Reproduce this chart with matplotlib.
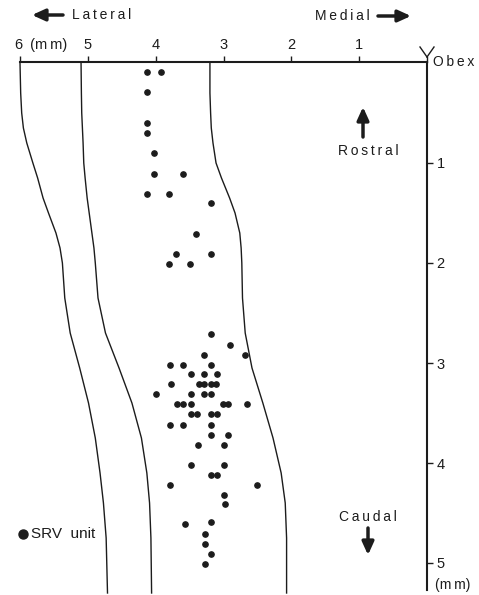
import matplotlib
matplotlib.use("Agg")
import matplotlib.pyplot as plt
from matplotlib.lines import Line2D

plt.rcParams['font.family'] = ['Liberation Sans', 'DejaVu Sans']

# ---------------- data (mm) ----------------
depth = [0, 0.3, 0.5, 0.65, 0.8, 1.0, 1.15, 1.35, 1.5, 1.7, 1.85, 2.0,
         2.35, 2.7, 3.05, 3.4, 3.75, 4.1, 4.4, 4.75, 5.3]
boundary_1 = [6.0, 5.99, 5.975, 5.95, 5.90, 5.81, 5.74, 5.66, 5.58, 5.47, 5.41,
              5.375, 5.34, 5.26, 5.12, 4.99, 4.89, 4.82, 4.77, 4.73, 4.71]
boundary_2 = [5.10, 5.095, 5.09, 5.08, 5.07, 5.06, 5.04, 5.01, 4.98, 4.94, 4.91,
              4.89, 4.85, 4.74, 4.54, 4.35, 4.21, 4.13, 4.09, 4.07, 4.06]
boundary_3 = [3.20, 3.20, 3.19, 3.18, 3.155, 3.11, 3.03, 2.91, 2.83, 2.76, 2.74,
              2.73, 2.72, 2.68, 2.58, 2.42, 2.27, 2.15, 2.09, 2.07, 2.07]

unit_lateral = [4.13, 3.92, 4.13, 4.13, 4.13, 4.02, 4.02, 3.60, 4.13, 3.80, 3.19,
                3.40, 3.70, 3.19, 3.80, 3.49,
                3.19,
                2.90,
                3.29, 2.69,
                3.79, 3.59, 3.19,
                3.48, 3.29, 3.09,
                3.78, 3.36, 3.29, 3.19, 3.11,
                4.00, 3.48, 3.29, 3.19,
                3.69, 3.59, 3.48, 3.01, 2.93, 2.66,
                3.48, 3.39, 3.19, 3.09,
                3.79, 3.59, 3.19,
                3.19, 2.93,
                3.38, 2.99,
                3.48, 2.99,
                3.19, 3.09,
                3.79, 2.51,
                2.99,
                2.98,
                3.57, 3.18,
                3.28,
                3.28,
                3.18,
                3.28]
unit_depth = [0.09, 0.09, 0.29, 0.60, 0.70, 0.90, 1.11, 1.11, 1.31, 1.31, 1.40,
              1.71, 1.91, 1.91, 2.01, 2.01,
              2.71,
              2.82,
              2.92, 2.92,
              3.02, 3.02, 3.02,
              3.11, 3.11, 3.11,
              3.21, 3.21, 3.21, 3.21, 3.21,
              3.31, 3.31, 3.31, 3.31,
              3.41, 3.41, 3.41, 3.41, 3.41, 3.41,
              3.51, 3.51, 3.51, 3.51,
              3.62, 3.62, 3.62,
              3.72, 3.72,
              3.82, 3.82,
              4.02, 4.02,
              4.12, 4.12,
              4.22, 4.22,
              4.32,
              4.41,
              4.61, 4.59,
              4.71,
              4.81,
              4.91,
              5.01]

top_ticks = [1, 2, 3, 4, 5, 6]
top_labels = ['1', '2', '3', '4', '5', '']
right_ticks = [1, 2, 3, 4, 5]
right_labels = ['1', '2', '3', '4', '5']

# ---------------- figure ----------------
W, H = 479, 595
INK = '#1c1c1c'
TS = '\u2009'
fig = plt.figure(figsize=(W / 100, H / 100), dpi=100)
fig.patch.set_facecolor('white')


def fx(px):
    return px / W


def fy(py):
    return 1 - py / H


def spaced(word):
    return TS.join(word)


ax = fig.add_axes([fx(20), fy(590), fx(427) - fx(20), fy(62) - fy(590)])
ax.set_xlim(6, 0)
ax.set_ylim(5.27, -0.01)

for b in (boundary_1, boundary_2, boundary_3):
    ax.plot(b, depth, color=INK, lw=1.0, clip_on=False, solid_joinstyle='round')

ax.plot(unit_lateral, unit_depth, 'o', color=INK, ms=3.8, mec=INK, clip_on=False)

for s in ('left', 'bottom'):
    ax.spines[s].set_visible(False)
for s in ('top', 'right'):
    ax.spines[s].set_linewidth(1.5)
    ax.spines[s].set_color(INK)

ax.xaxis.set_ticks_position('top')
ax.set_xticks(top_ticks)
ax.set_xticklabels(top_labels)
ax.tick_params(axis='x', direction='out', length=4, width=1.0, color=INK,
               pad=3, labelsize=10.5, labelcolor=INK)
ax.yaxis.set_ticks_position('right')
ax.set_yticks(right_ticks)
ax.set_yticklabels(right_labels)
ax.tick_params(axis='y', direction='out', length=4, width=1.0, color=INK,
               pad=3, labelsize=10.5, labelcolor=INK)

# axis annotations
fig.text(fx(15), fy(45), '6' + TS + ' (' + spaced('mm') + ')', ha='left', va='center',
         fontsize=10.5, color=INK)
fig.text(fx(433), fy(62), spaced('Obex'), ha='left', va='center', fontsize=10, color=INK)
fig.text(fx(435), fy(585), '(' + spaced('mm') + ')', ha='left', va='center',
         fontsize=10, color=INK)

# Y mark at the obex
for (x0, y0, x1, y1) in [(427, 62, 427, 57), (427, 57, 420, 47), (427, 57, 434, 47)]:
    fig.add_artist(Line2D([fx(x0), fx(x1)], [fy(y0), fy(y1)], transform=fig.transFigure,
                          color=INK, lw=1.0))

# direction labels
arrow_kw = dict(arrowstyle='-|>,head_length=0.55,head_width=0.25', color=INK, lw=2.5,
                shrinkA=0, shrinkB=0, mutation_scale=14)
fig.text(fx(72), fy(15), spaced('Lateral'), ha='left', va='center', fontsize=10, color=INK)
ax.annotate('', xy=(fx(32), fy(15)), xytext=(fx(63), fy(15)),
            xycoords='figure fraction', textcoords='figure fraction', arrowprops=arrow_kw)
fig.text(fx(370), fy(16), spaced('Medial'), ha='right', va='center', fontsize=10, color=INK)
ax.annotate('', xy=(fx(411), fy(16)), xytext=(fx(378), fy(16)),
            xycoords='figure fraction', textcoords='figure fraction', arrowprops=arrow_kw)

fig.text(fx(368), fy(151), spaced('Rostral'), ha='center', va='center', fontsize=10,
         color=INK)
ax.annotate('', xy=(fx(363), fy(107)), xytext=(fx(363), fy(137)),
            xycoords='figure fraction', textcoords='figure fraction', arrowprops=arrow_kw)
fig.text(fx(368), fy(517), spaced('Caudal'), ha='center', va='center', fontsize=10,
         color=INK)
ax.annotate('', xy=(fx(368), fy(555)), xytext=(fx(368), fy(528)),
            xycoords='figure fraction', textcoords='figure fraction', arrowprops=arrow_kw)

# legend
fig.add_artist(Line2D([fx(23)], [fy(534)], marker='o', ms=6.5, color=INK,
                      transform=fig.transFigure))
fig.text(fx(31), fy(534), 'SRV  unit', ha='left', va='center', fontsize=11, color=INK)

fig.savefig('out.png', dpi=100)
